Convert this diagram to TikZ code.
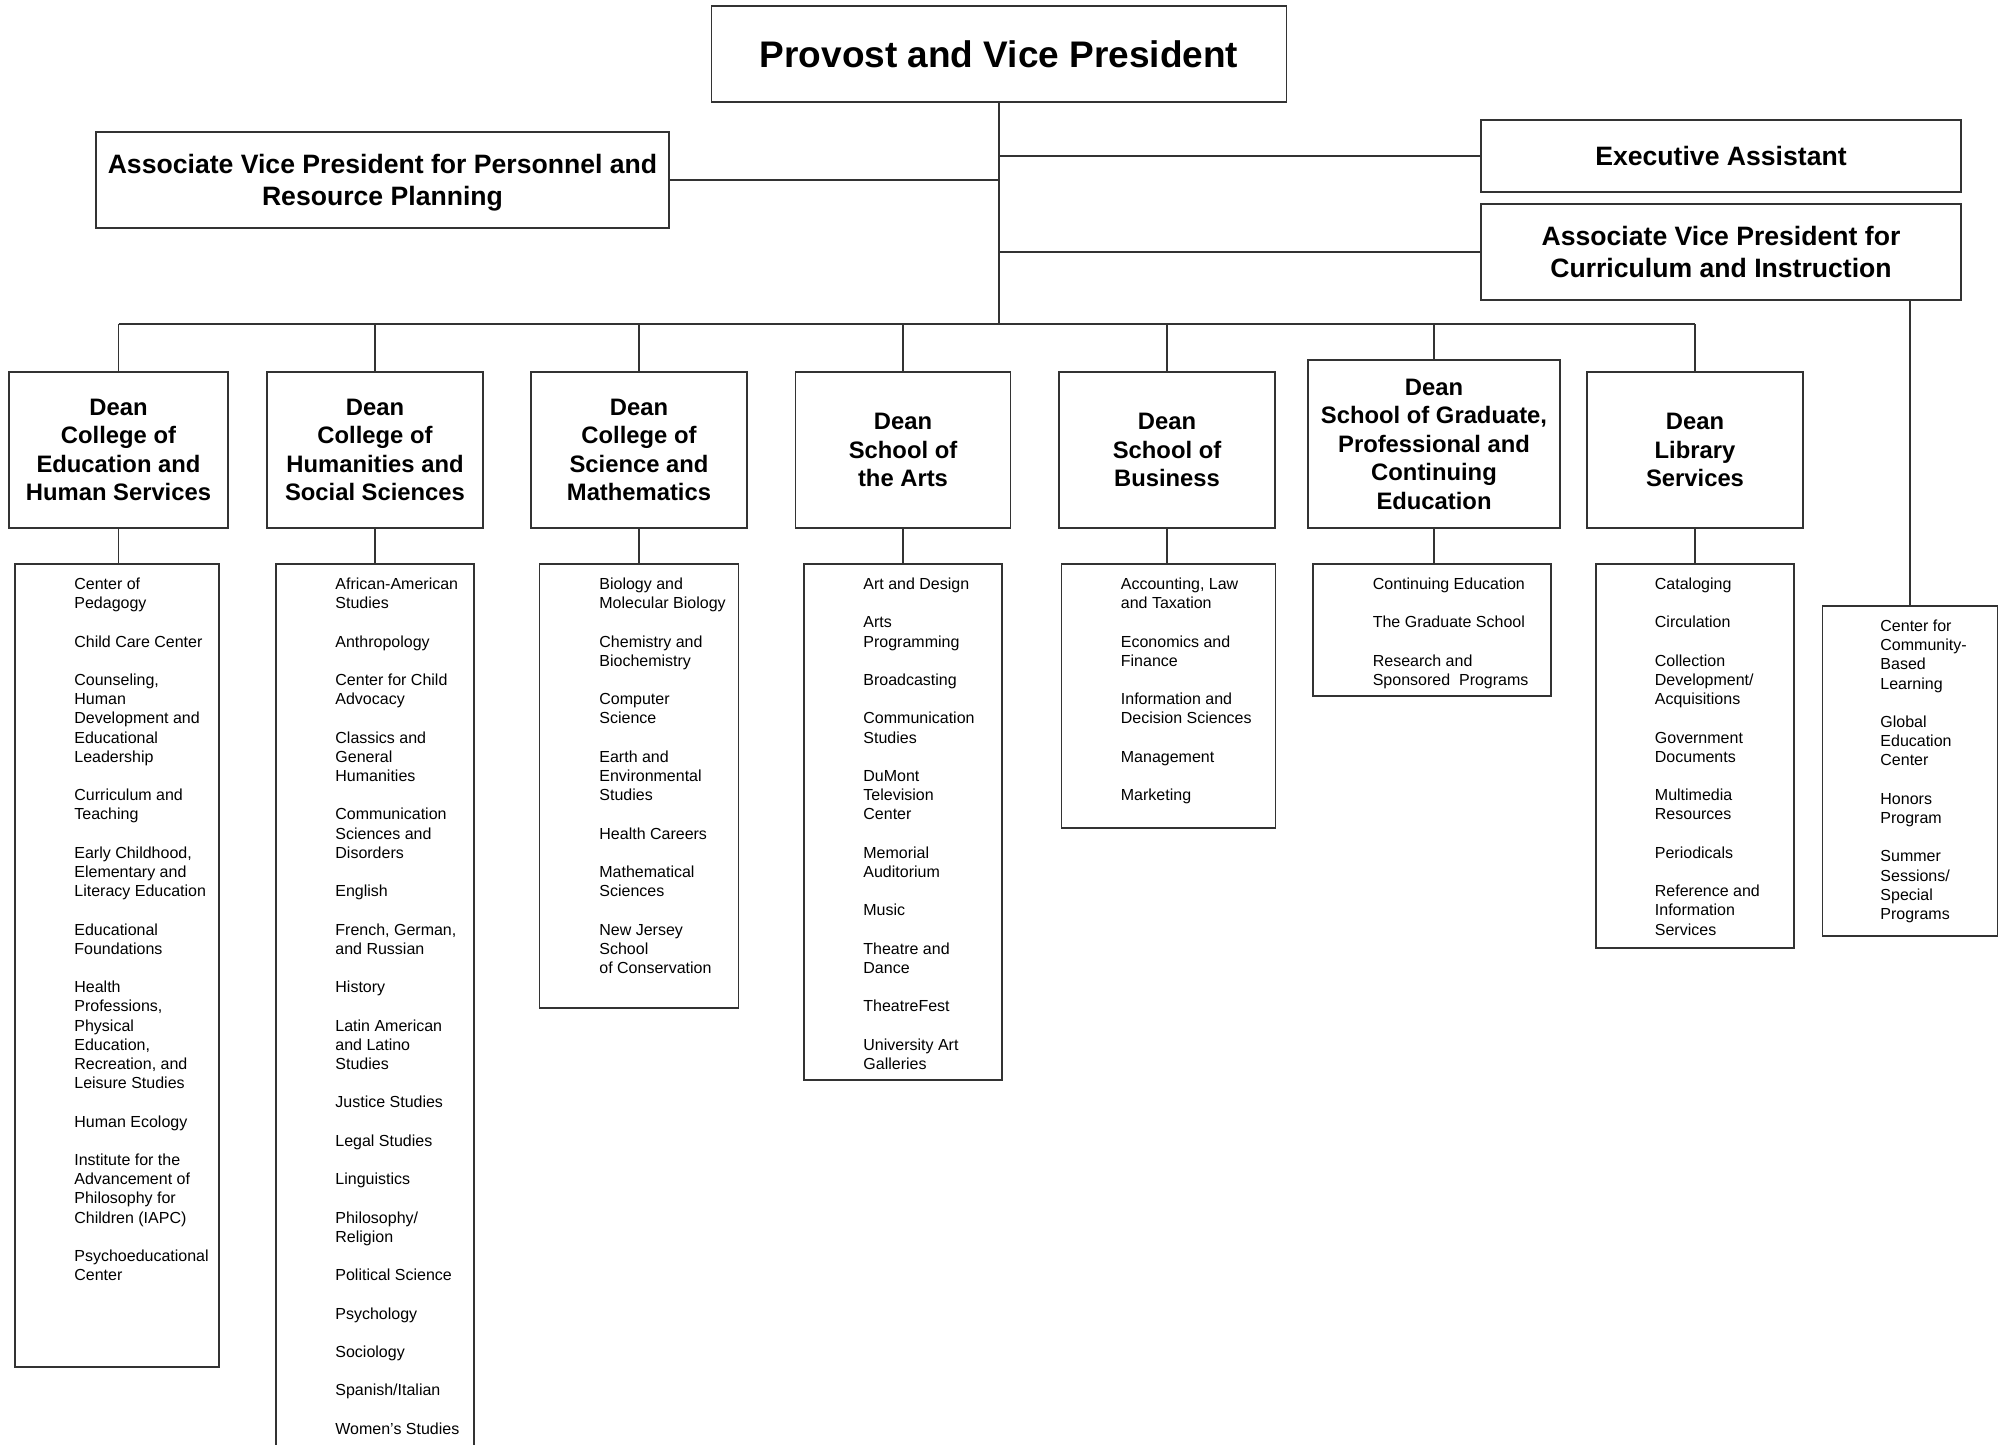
\documentclass[tikz,border=0pt]{standalone}
\usepackage{fontspec}
\setmainfont{Liberation Sans}
\begin{document}
\begin{tikzpicture}[x=0.5pt,y=-0.5pt,
  line/.style={draw=black!80, line width=0.9pt},
  box/.style={rectangle, draw=black!80, line width=0.9pt, inner sep=0pt},
  toptitle/.style={box, font=\fontsize{18.5}{22}\selectfont\bfseries},
  avp/.style={box, align=center, text depth=0pt, font=\fontsize{13.3}{16}\selectfont\bfseries},
  dean/.style={box, align=center, minimum height=78pt, font=\fontsize{11.9}{14.25}\selectfont\bfseries},
  unitbox/.style={box},
  units/.style={anchor=north west, inner sep=0pt, align=left, font=\fontsize{8}{9.6}\selectfont}]

\useasboundingbox (0,0) rectangle (2005,1444);
\clip (0,0) rectangle (2005,1444);

% top level offices
\node[toptitle, minimum width=287.5pt, minimum height=48pt] (prov) at (999,54) {Provost and Vice President};
\node[avp, minimum width=286.5pt, minimum height=48pt] (avpr) at (382.5,180) {Associate Vice President for Personnel and\\Resource Planning};
\node[avp, minimum width=240pt, minimum height=36pt] (exec) at (1721,156) {Executive Assistant};
\node[avp, minimum width=240pt, minimum height=48pt] (avci) at (1721,252) {Associate Vice President for\\Curriculum and Instruction};

% deans
\node[dean, minimum width=109.5pt] (d1) at (118.5,450) {Dean\\College of\\Education and\\Human Services};
\node[dean, minimum width=108pt] (d2) at (375,450) {Dean\\College of\\Humanities and\\Social Sciences};
\node[dean, minimum width=108pt] (d3) at (639,450) {Dean\\College of\\Science and\\Mathematics};
\node[dean, minimum width=107.5pt] (d4) at (903,450) {Dean\\School of\\the Arts};
\node[dean, minimum width=108.3pt] (d5) at (1167,450) {Dean\\School of\\Business};
\node[dean, minimum width=126pt, minimum height=84pt] (d6) at (1434,444) {Dean\\School of Graduate,\\Professional and\\Continuing\\Education};
\node[dean, minimum width=108.3pt] (d7) at (1695,450) {Dean\\Library\\Services};

% unit boxes
\node[unitbox, minimum width=102pt, minimum height=401.5pt] (l1) at (117,965.5) {};
\node[unitbox, minimum width=99pt, minimum height=448pt] (l2) at (375,1012) {};
\node[unitbox, minimum width=99.5pt, minimum height=222pt] (l3) at (639,786) {};
\node[unitbox, minimum width=99pt, minimum height=258pt] (l4) at (903,822) {};
\node[unitbox, minimum width=107pt, minimum height=132pt] (l5) at (1168.5,696) {};
\node[unitbox, minimum width=118.75pt, minimum height=66pt] (l6) at (1432,630) {};
\node[unitbox, minimum width=99pt, minimum height=192pt] (l7) at (1695,756) {};
\node[unitbox, minimum width=87.5pt, minimum height=165pt] (l8) at (1910,771) {};

% unit lists
\node[units] (t1) at (74,577.5) {Center of\\Pedagogy\\[9.6pt]Child Care Center\\[9.6pt]Counseling,\\Human\\Development and\\Educational\\Leadership\\[9.6pt]Curriculum and\\Teaching\\[9.6pt]Early Childhood,\\Elementary and\\Literacy Education\\[9.6pt]Educational\\Foundations\\[9.6pt]Health\\Professions,\\Physical\\Education,\\Recreation, and\\Leisure Studies\\[9.6pt]Human Ecology\\[9.6pt]Institute for the\\Advancement of\\Philosophy for\\Children (IAPC)\\[9.6pt]Psychoeducational\\Center};
\node[units] (t2) at (335,577.5) {African-American\\Studies\\[9.6pt]Anthropology\\[9.6pt]Center for Child\\Advocacy\\[9.6pt]Classics and\\General\\Humanities\\[9.6pt]Communication\\Sciences and\\Disorders\\[9.6pt]English\\[9.6pt]French, German,\\and Russian\\[9.6pt]History\\[9.6pt]Latin American\\and Latino\\Studies\\[9.6pt]Justice Studies\\[9.6pt]Legal Studies\\[9.6pt]Linguistics\\[9.6pt]Philosophy/\\Religion\\[9.6pt]Political Science\\[9.6pt]Psychology\\[9.6pt]Sociology\\[9.6pt]Spanish/Italian\\[9.6pt]Women's Studies};
\node[units] (t3) at (599,577.5) {Biology and\\Molecular Biology\\[9.6pt]Chemistry and\\Biochemistry\\[9.6pt]Computer\\Science\\[9.6pt]Earth and\\Environmental\\Studies\\[9.6pt]Health Careers\\[9.6pt]Mathematical\\Sciences\\[9.6pt]New Jersey\\School\\of Conservation};
\node[units] (t4) at (863,577.5) {Art and Design\\[9.6pt]Arts\\Programming\\[9.6pt]Broadcasting\\[9.6pt]Communication\\Studies\\[9.6pt]DuMont\\Television\\Center\\[9.6pt]Memorial\\Auditorium\\[9.6pt]Music\\[9.6pt]Theatre and\\Dance\\[9.6pt]TheatreFest\\[9.6pt]University Art\\Galleries};
\node[units] (t5) at (1120.5,577.5) {Accounting, Law\\and Taxation\\[9.6pt]Economics and\\Finance\\[9.6pt]Information and\\Decision Sciences\\[9.6pt]Management\\[9.6pt]Marketing};
\node[units] (t6) at (1372.4,577.5) {Continuing Education\\[9.6pt]The Graduate School\\[9.6pt]Research and\\Sponsored~ Programs};
\node[units] (t7) at (1654.5,577.5) {Cataloging\\[9.6pt]Circulation\\[9.6pt]Collection\\Development/\\Acquisitions\\[9.6pt]Government\\Documents\\[9.6pt]Multimedia\\Resources\\[9.6pt]Periodicals\\[9.6pt]Reference and\\Information\\Services};
\node[units] (t8) at (1880,619.5) {Center for\\Community-\\Based\\Learning\\[9.6pt]Global\\Education\\Center\\[9.6pt]Honors\\Program\\[9.6pt]Summer\\Sessions/\\Special\\Programs};

% reporting lines
\coordinate (bus) at (117,324);
\draw[line] (prov.south) -- (prov.south |- bus);
\draw[line] (avpr.east) -- (avpr.east -| prov.south);
\draw[line] (exec.west) -- (exec.west -| prov.south);
\draw[line] (avci.west) -- (avci.west -| prov.south);
\draw[line] (d1.north |- bus) -- (d7.north |- bus);
\foreach \k in {1,...,7}{
  \draw[line] (d\k.north) -- (d\k.north |- bus);
  \draw[line] (d\k.south) -- (d\k.south |- l\k.north);
}
\draw[line] (l8.north) -- (l8.north |- avci.south);
\end{tikzpicture}
\end{document}
